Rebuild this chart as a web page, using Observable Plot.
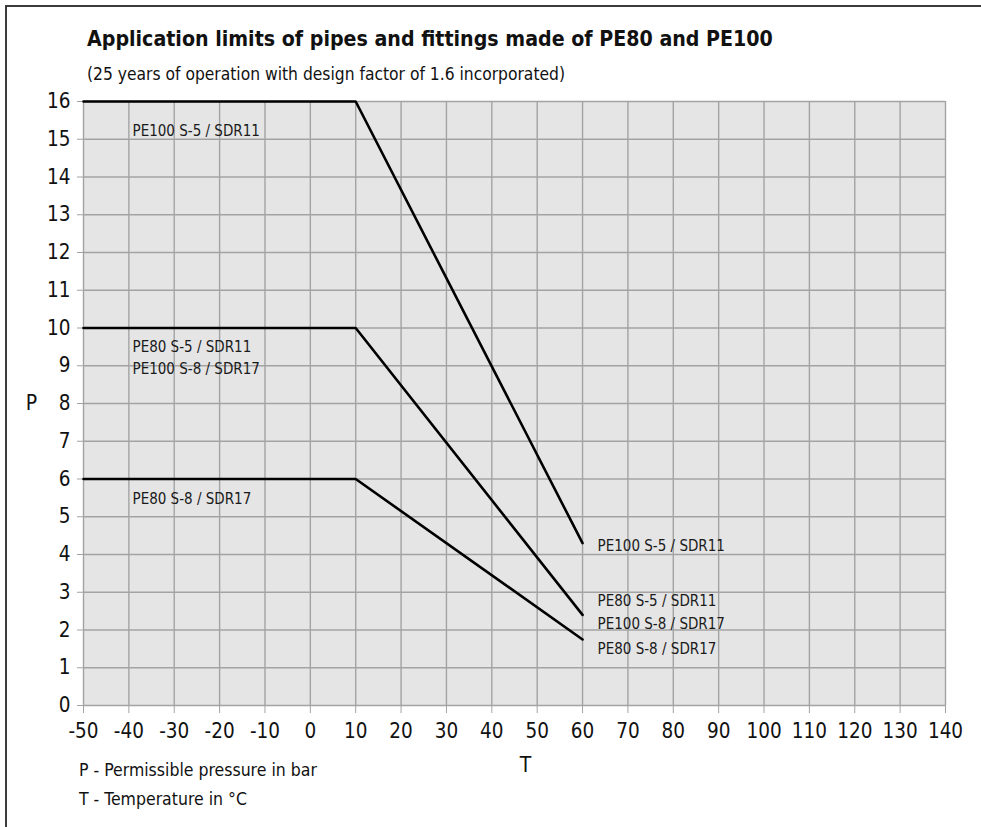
<!DOCTYPE html>
<html><head><meta charset="utf-8">
<script src="https://cdn.jsdelivr.net/npm/d3@7"></script>
<script src="https://cdn.jsdelivr.net/npm/@observablehq/plot@0.6"></script>
<style>
body{margin:0;background:#fff;}
#wrap{position:relative;width:981px;height:827px;overflow:hidden;font-family:"DejaVu Sans Condensed","DejaVu Sans",sans-serif;font-stretch:condensed;color:#111;}
.t{position:absolute;white-space:nowrap;line-height:1;}
.bar{position:absolute;background:#3c3c3c;}
#chart{position:absolute;left:0;top:0;}
</style></head>
<body><div id="wrap">
<div id="chart"></div>
<div class="bar" style="left:5px;top:5px;width:976px;height:2px"></div>
<div class="bar" style="left:5px;top:5px;width:2px;height:822px"></div>
<div class="t" id="title" style="left:87px;top:27.5px;font-size:21.2px;font-weight:bold;"></div>
<div class="t" id="subtitle" style="left:87px;top:65.5px;font-size:17.3px;"></div>
<div class="t" id="note1" style="left:79px;top:761.5px;font-size:17.5px;"></div>
<div class="t" id="note2" style="left:79px;top:790.5px;font-size:17.5px;"></div>
</div>
<script>
// ---- data ----
const titleText = "Application limits of pipes and fittings made of PE80 and PE100";
const subtitleText = "(25 years of operation with design factor of 1.6 incorporated)";
const notes = ["P - Permissible pressure in bar", "T - Temperature in °C"];
const temperatures = [-50, 10, 60];
const pe100S5 = [16, 16, 4.3];
const pe80S5pe100S8 = [10, 10, 2.4];
const pe80S8 = [6, 6, 1.75];
const seriesNames = ["PE100 S-5 / SDR11", "PE80 S-5 / SDR11\nPE100 S-8 / SDR17", "PE80 S-8 / SDR17"];
const xTicks = [-50, -40, -30, -20, -10, 0, 10, 20, 30, 40, 50, 60, 70, 80, 90, 100, 110, 120, 130, 140];
const yTicks = [0, 1, 2, 3, 4, 5, 6, 7, 8, 9, 10, 11, 12, 13, 14, 15, 16];
const xAxisLabel = "T";
const yAxisLabel = "P";

document.getElementById("title").textContent = titleText;
document.getElementById("subtitle").textContent = subtitleText;
document.getElementById("note1").textContent = notes[0];
document.getElementById("note2").textContent = notes[1];

const seriesValues = [pe100S5, pe80S5pe100S8, pe80S8];
const rows = seriesValues.flatMap((vals, s) =>
  vals.map((p, i) => ({series: seriesNames[s], s, T: temperatures[i], P: p, i})));
const first = rows.filter(d => d.i === 0);
const last = rows.filter(d => d.i === temperatures.length - 1);

const labelFont = {fontSize: 15, fill: "#1a1a1a", textAnchor: "start", lineHeight: 1.5};
const startDy = [27, 28, 18];
const endDy = [0, -5, 7.5];

const chart = Plot.plot({
  width: 981,
  height: 827,
  marginLeft: 83,
  marginRight: 36,
  marginTop: 101,
  marginBottom: 122,
  style: {fontFamily: '"DejaVu Sans Condensed","DejaVu Sans",sans-serif', fontStretch: "condensed", fontSize: "20.5px", background: "transparent", overflow: "visible"},
  x: {domain: [-50, 140]},
  y: {domain: [0, 16]},
  marks: [
    Plot.frame({fill: "#e5e5e5", stroke: "none"}),
    Plot.gridX({ticks: xTicks, stroke: "#a3a3a3", strokeOpacity: 1, strokeWidth: 1.4}),
    Plot.gridY({ticks: yTicks, stroke: "#a3a3a3", strokeOpacity: 1, strokeWidth: 1.4}),
    Plot.axisX({ticks: xTicks, tickSize: 8, tickPadding: 10, tickFormat: d => String(d), stroke: "#a3a3a3", fill: "#111", label: null}),
    Plot.axisY({ticks: yTicks, tickSize: 6, tickPadding: 7, tickFormat: d => String(d), stroke: "#a3a3a3", fill: "#111", label: null}),
    Plot.line(rows, {x: "T", y: "P", z: "series", stroke: "#000", strokeWidth: 2.6, strokeLinejoin: "miter"}),
    ...[0, 1, 2].map(s => Plot.text(first.filter(d => d.s === s), {x: "T", y: "P", text: "series", dx: 49, dy: startDy[s], ...labelFont})),
    ...[0, 1, 2].map(s => Plot.text(last.filter(d => d.s === s), {x: "T", y: "P", text: "series", dx: 15, dy: endDy[s], ...labelFont, lineHeight: 1.55})),
    Plot.text([yAxisLabel], {frameAnchor: "left", text: d => d, dx: -52, textAnchor: "middle", fontSize: 21, fill: "#111"}),
    Plot.text([xAxisLabel], {frameAnchor: "bottom", text: d => d, dx: 11, dy: 66, textAnchor: "middle", fontSize: 21, fill: "#111"})
  ]
});
document.getElementById("chart").appendChild(chart);
</script>
</body></html>
